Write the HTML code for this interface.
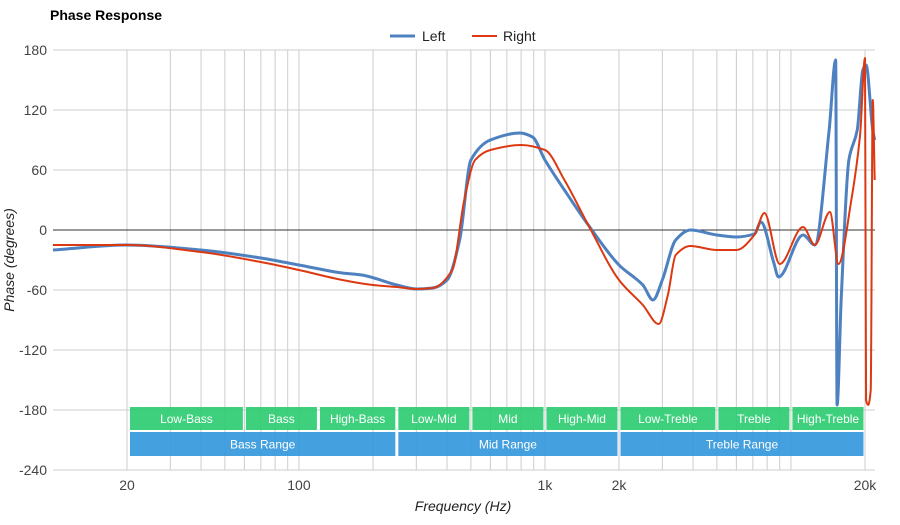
<!DOCTYPE html>
<html><head><meta charset="utf-8"><style>
body{margin:0;background:#fff;font-family:"Liberation Sans",Arial,sans-serif}
svg text{font-family:"Liberation Sans",Arial,sans-serif}
</style></head><body>
<svg id="chart" width="900" height="520" xmlns="http://www.w3.org/2000/svg">
<text x="50" y="20" font-size="14" font-weight="bold" fill="#000">Phase Response</text>
<g>
<g><line x1="390" y1="36" x2="415" y2="36" stroke="#4e81c0" stroke-width="3"/><text x="422" y="41" font-size="14" fill="#222">Left</text></g>
<g><line x1="472" y1="36" x2="497" y2="36" stroke="#dc3912" stroke-width="2"/><text x="503" y="41" font-size="14" fill="#222">Right</text></g>
</g>
<g id="grid"></g><g id="bands"></g><g id="series"></g><g id="axes"></g>
<text x="463" y="511" font-size="14" font-style="italic" fill="#222" text-anchor="middle">Frequency (Hz)</text>
<text transform="translate(14,260) rotate(-90)" font-size="14" font-style="italic" fill="#222" text-anchor="middle">Phase (degrees)</text>
</svg>
<script>
const yTicks=[180,120,60,0,-60,-120,-180,-240];
const xTickLabels=["20","100","1k","2k","20k"];
const xTickValues=[20,100,1000,2000,20000];
const gridFreqs=[20,30,40,50,60,70,80,90,100,200,300,400,500,600,700,800,900,1000,2000,3000,4000,5000,6000,7000,8000,9000,10000,20000];
const bandNames=["Low-Bass","Bass","High-Bass","Low-Mid","Mid","High-Mid","Low-Treble","Treble","High-Treble"];
const bandEdges=[20,60,120,250,500,1000,2000,5000,10000,20000];
const rangeNames=["Bass Range","Mid Range","Treble Range"];
const rangeEdges=[20,250,2000,20000];
const leftFreq=[10,20,40,70,100,150,180,250,300,350,400,450,500,600,790,890,1000,1200,1500,2000,2500,2750,3000,3400,3900,5000,6000,7100,7550,8500,8900,11200,12500,14300,15200,15400,16000,17200,18600,19600,20200,21500,21900];
const leftVals=[-20,-15,-20,-28,-35,-43,-45,-55,-59,-58,-50,-10,70,90,97,93,70,40,5,-35,-55,-70,-50,-10,0,-5,-7,-4,8,-32,-47,-5,-15,100,170,-175,-70,70,100,160,165,100,90];
const rightFreq=[10,20,40,70,100,150,200,250,300,350,420,470,520,600,800,1000,1200,1500,2000,2500,2900,3160,3400,3900,5000,6000,7100,7800,9000,11200,12500,14400,15600,17600,19100,20000,20200,20600,21100,21500,21900];
const rightVals=[-15,-15,-22,-32,-40,-50,-55,-57,-59,-58,-40,30,70,80,85,80,50,5,-50,-75,-94,-65,-25,-16,-20,-20,-5,17,-34,3,-15,18,-34,30,95,172,-170,-175,-160,130,50];
const NS="http://www.w3.org/2000/svg";
const X0=127,PX=246,Y0=230;
function xs(f){return X0+PX*Math.log10(f/20);}
function ys(v){return Y0-v;}
function mk(tag,attrs,parent){const e=document.createElementNS(NS,tag);for(const k in attrs)e.setAttribute(k,attrs[k]);parent.appendChild(e);return e;}
const grid=document.getElementById('grid'),axes=document.getElementById('axes'),bands=document.getElementById('bands'),series=document.getElementById('series');
gridFreqs.forEach(f=>{const l=mk('line',{x1:xs(f),x2:xs(f),y1:50,y2:470,stroke:'#ccc','stroke-width':1},grid);

});
yTicks.forEach(v=>{const l=mk('line',{x1:53,x2:875,y1:ys(v),y2:ys(v),stroke:v===0?'#333':'#ccc','stroke-width':1},grid);


const t=mk('text',{x:47,y:ys(v)+5,'font-size':14,fill:'#444','text-anchor':'end'},axes);t.textContent=v;

});
xTickValues.forEach((f,i)=>{const t=mk('text',{x:xs(f),y:490,'font-size':14,fill:'#444','text-anchor':'middle'},axes);t.textContent=xTickLabels[i];

});
function band(names,edges,y,h,color,nm){names.forEach((n,i)=>{const a=xs(edges[i])+(i?1.5:3),b=xs(edges[i+1])-1.5;
const g=mk('g',{},bands);


mk('rect',{x:a,y:y,width:b-a,height:h,fill:color,'fill-opacity':0.92},g);
const t=mk('text',{x:(a+b)/2,y:y+h/2+4.5,'font-size':12,fill:'#fff','text-anchor':'middle'},g);t.textContent=n;});}
band(bandNames,bandEdges,407,23,'#2ecc71','band');
band(rangeNames,rangeEdges,432,24,'#3498db','range');
function monoPath(px,py){const n=px.length,d=[],m=[];for(let i=0;i<n-1;i++)d.push((py[i+1]-py[i])/(px[i+1]-px[i]));
m[0]=d[0];m[n-1]=d[n-2];for(let i=1;i<n-1;i++){m[i]=d[i-1]*d[i]<=0?0:3*(d[i-1]+d[i])/( (2*d[i]+d[i-1])/d[i-1]*0+ (d[i-1]+d[i]) ) ;
const a=d[i-1],b=d[i];m[i]=a*b<=0?0:2/(1/a+1/b);}
let s='M'+px[0]+','+py[0];for(let i=0;i<n-1;i++){const h=(px[i+1]-px[i])/3;s+=' C'+(px[i]+h)+','+(py[i]+m[i]*h)+' '+(px[i+1]-h)+','+(py[i+1]-m[i+1]*h)+' '+px[i+1]+','+py[i+1];}return s;}
function line(fr,vals,color,w,nm){const p=mk('path',{d:monoPath(fr.map(xs),vals.map(ys)),fill:'none',stroke:color,'stroke-width':w,'stroke-linejoin':'round'},series);

}
line(leftFreq,leftVals,'#4e81c0',3,'left-series-line');
line(rightFreq,rightVals,'#dc3912',2,'right-series-line');
</script>
</body></html>
